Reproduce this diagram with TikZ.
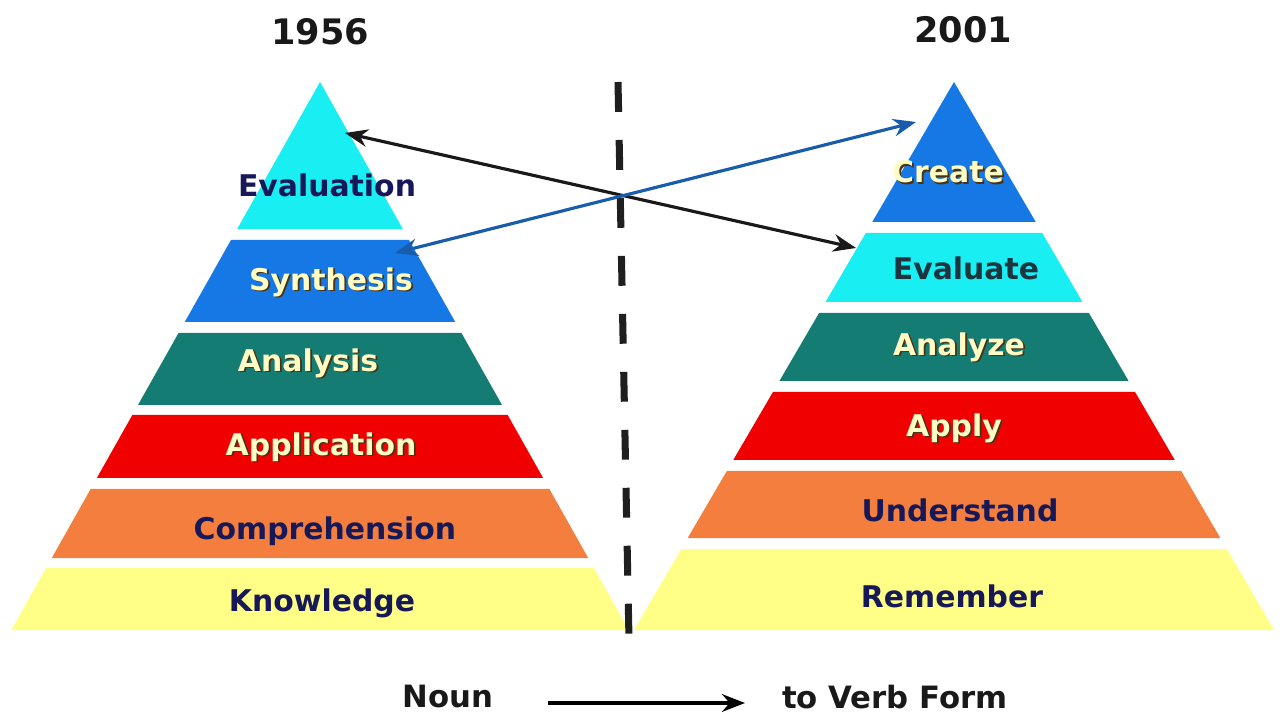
\documentclass[tikz,border=0pt]{standalone}
\usepackage{fontspec}
\setmainfont{DejaVu Sans}
\usepackage{tikz}
\usetikzlibrary{arrows, arrows.meta, positioning}
\definecolor{cyanband}{RGB}{25,238,242}
\definecolor{blueband}{RGB}{22,120,228}
\definecolor{tealband}{RGB}{20,124,114}
\definecolor{redband}{RGB}{240,0,0}
\definecolor{orangeband}{RGB}{244,126,62}
\definecolor{yellowband}{RGB}{255,255,135}
\definecolor{navytext}{RGB}{22,24,88}
\definecolor{slatetext}{RGB}{30,52,62}
\definecolor{litetext}{RGB}{255,252,196}
\definecolor{shadetext}{RGB}{70,50,20}
\definecolor{linkblue}{RGB}{25,92,172}
\tikzstyle{lbl} = [font=\fontsize{17}{20}\selectfont\bfseries, inner sep=0pt]
\tikzstyle{year} = [font=\fontsize{20}{24}\selectfont\bfseries, text=black!90, inner sep=0pt]
\tikzstyle{foot} = [font=\fontsize{17.5}{21}\selectfont\bfseries, text=black!90, inner sep=0pt]
\tikzstyle{arrow} = [line width=1.8pt, {Stealth[length=13pt,width=10pt]}-{Stealth[length=13pt,width=10pt]}]
\newcommand{\litelabel}[3]{%
  \node[lbl, text=shadetext, xshift=1pt, yshift=-1pt] at (#2) {#3};
  \node[lbl, text=litetext] (#1) at (#2) {#3};}

\begin{document}
\begin{tikzpicture}[x=0.02cm, y=-0.02cm]
\useasboundingbox (0,0) rectangle (1280,715);

% 1956 pyramid
\foreach \yt/\yb/\col in {82/229/cyanband, 240/322/blueband, 333/405/tealband, 415/478/redband, 489/558/orangeband, 568/630/yellowband}
  \fill[\col] ({320-0.5635*(\yt-82)},\yt) -- ({320+0.5635*(\yt-82)},\yt) -- ({320+0.5635*(\yb-82)},\yb) -- ({320-0.5635*(\yb-82)},\yb) -- cycle;

% 2001 pyramid
\foreach \yt/\yb/\col in {82/222/blueband, 233/302/cyanband, 313/381/tealband, 392/460/redband, 471/538/orangeband, 549/630/yellowband}
  \fill[\col] ({954-0.584*(\yt-82)},\yt) -- ({954+0.584*(\yt-82)},\yt) -- ({954+0.584*(\yb-82)},\yb) -- ({954-0.584*(\yb-82)},\yb) -- cycle;

\node (y1956) [year] at (320,32) {1956};
\node (y2001) [year] at (963,30) {2001};

\node (evaluation) [lbl, text=navytext] at (327,185) {Evaluation};
\litelabel{synthesis}{331,282}{Synthesis}
\litelabel{analysis}{308,363}{Analysis}
\litelabel{application}{321,447}{Application}
\node (comprehension) [lbl, text=navytext] at (325,531) {Comprehension};
\node (knowledge) [lbl, text=navytext] at (322,603) {Knowledge};

\litelabel{create}{948,172}{Create}
\node (evaluate) [lbl, text=slatetext] at (966,268) {Evaluate};
\litelabel{analyze}{959,347}{Analyze}
\litelabel{apply}{954,428}{Apply}
\node (understand) [lbl, text=navytext] at (960,510) {Understand};
\node (remember) [lbl, text=navytext] at (952,596) {Remember};

% divider
\coordinate (divtop) at (618,82);
\coordinate (divbot) at (629,640);
\draw [line width=4pt, black!88, dash pattern=on 17pt off 16pt] (divtop) -- (divbot);

% cross links
\coordinate (evalapex) at (345,133);
\coordinate (evalnew) at (856,248);
\coordinate (synthend) at (395,253);
\coordinate (createend) at (916,122);
\draw [arrow, black!90] (evalapex) -- (evalnew);
\draw [arrow, linkblue] (synthend) -- (createend);

% bottom line
\node (noun) [foot] at (448,697) {Noun};
\node (verb) [foot] at (895,697) {to Verb Form};
\coordinate (nounend) at (548,703);
\coordinate (verbend) at (745,703);
\draw [line width=2.4pt,-{Stealth[length=13pt,width=10pt]}] (nounend) -- (verbend);

\end{tikzpicture}
\end{document}
